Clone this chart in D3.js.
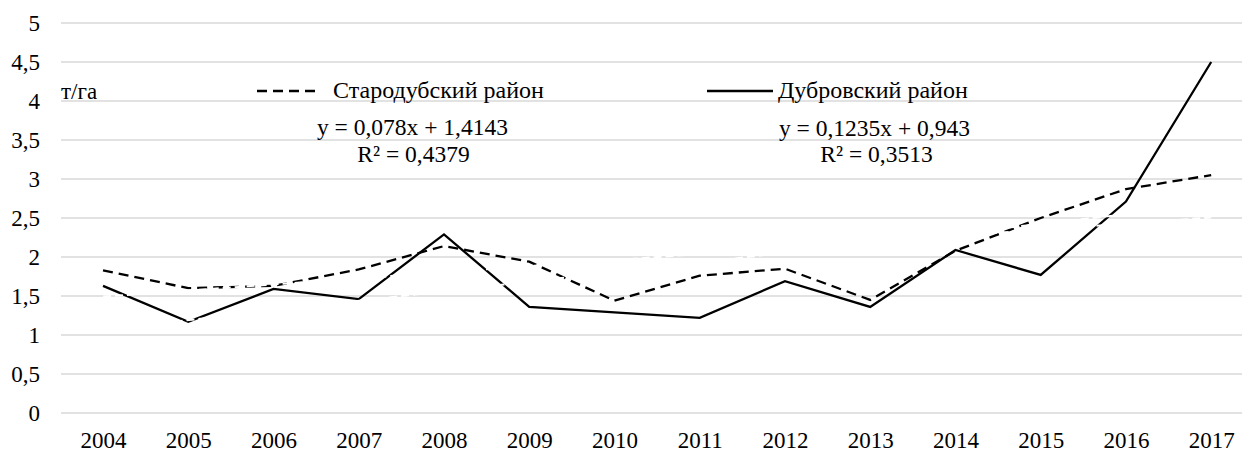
<!DOCTYPE html>
<html>
<head>
<meta charset="utf-8">
<script src="https://cdn.jsdelivr.net/npm/d3@7"></script>
</head>
<body style="margin:0; background:#fff">
<div id="chart"></div>
<script>
// data
var years = ["2004","2005","2006","2007","2008","2009","2010","2011","2012","2013","2014","2015","2016","2017"];
var starodub = [1.83, 1.60, 1.63, 1.84, 2.14, 1.94, 1.44, 1.76, 1.85, 1.45, 2.08, 2.50, 2.87, 3.05];
var dubrovka = [1.63, 1.17, 1.59, 1.46, 2.29, 1.36, 1.29, 1.22, 1.69, 1.36, 2.09, 1.77, 2.71, 4.50];
var yTicks = [0, 0.5, 1, 1.5, 2, 2.5, 3, 3.5, 4, 4.5, 5];
// trendline coefficients (slope, intercept) as printed on the chart
var trendStarodub = [0.078, 1.4143];
var trendDubrovka = [0.1235, 0.943];
var seriesNames = ["Стародубский район", "Дубровский район"];
var equations = [["y = 0,078x + 1,4143", "R² = 0,4379"], ["y = 0,1235x + 0,943", "R² = 0,3513"]];

var W = 1242, H = 453;
var font = "'Liberation Serif'";
var fontSize = "23px";

var svg = d3.select("#chart")
    .append("svg")
    .attr("width", W)
    .attr("height", H);

var x = d3.scalePoint()
    .domain(years)
    .range([60.4, 1253.8])
    .padding(0.5);

var y = d3.scaleLinear()
    .domain([0, 5])
    .range([413, 23]);

// gridlines
svg.append("g")
    .selectAll("line")
    .data(yTicks)
    .enter()
    .append("line")
    .attr("x1", 61)
    .attr("x2", 1254)
    .attr("y1", function(d) { return y(d); })
    .attr("y2", function(d) { return y(d); })
    .attr("stroke", "#d9d9d9")
    .attr("stroke-width", 1.3);

// Y axis labels
var yAxis = svg.append("g")
    .attr("transform", "translate(40,0)")
    .call(d3.axisLeft(y).tickValues(yTicks).tickSize(0).tickPadding(0)
        .tickFormat(function(d) { return String(d).replace(".", ","); }));
yAxis.attr("font-family", null).attr("font-size", null);
yAxis.select(".domain").remove();
yAxis.selectAll("text")
    .style("font-size", fontSize)
    .style("font-family", font)
    .attr("fill", "#000");

// X axis labels
var xAxis = svg.append("g")
    .attr("transform", "translate(0," + y(0) + ")")
    .call(d3.axisBottom(x).tickSize(0).tickPadding(19));
xAxis.attr("font-family", null).attr("font-size", null);
xAxis.select(".domain").remove();
xAxis.selectAll("text")
    .style("font-size", fontSize)
    .style("font-family", font)
    .attr("fill", "#000");

var line = d3.line()
    .x(function(d, i) { return x(years[i]); })
    .y(function(d) { return y(d); });

// Стародубский — dashed
svg.append("path")
    .datum(starodub)
    .attr("fill", "none")
    .attr("stroke", "#000")
    .attr("stroke-width", 2.3)
    .attr("stroke-dasharray", "10,6")
    .attr("d", line);

// Дубровский — solid
svg.append("path")
    .datum(dubrovka)
    .attr("fill", "none")
    .attr("stroke", "#000")
    .attr("stroke-width", 2.3)
    .attr("d", line);

// linear trendlines, drawn in white over everything
[trendStarodub, trendDubrovka].forEach(function(t) {
    var n0 = 1, n1 = years.length;
    svg.append("line")
        .attr("x1", x(years[0]))
        .attr("x2", x(years[years.length - 1]))
        .attr("y1", y(t[0] * n0 + t[1]))
        .attr("y2", y(t[0] * n1 + t[1]))
        .attr("stroke", "#fff")
        .attr("stroke-width", 2)
        .attr("stroke-dasharray", "8,4");
});

function label(xp, yp, txt, anchor, size) {
    svg.append("text")
        .attr("x", xp)
        .attr("y", yp)
        .attr("text-anchor", anchor || "start")
        .style("font-family", font)
        .style("font-size", size || fontSize)
        .attr("fill", "#000")
        .text(txt);
}

// unit label
label(61, 99, "т/га");

// legend
svg.append("line")
    .attr("x1", 257).attr("x2", 320)
    .attr("y1", 91).attr("y2", 91)
    .attr("stroke", "#000")
    .attr("stroke-width", 2.3)
    .attr("stroke-dasharray", "10,6");
label(333, 98, seriesNames[0], "start", "24px");

svg.append("line")
    .attr("x1", 707).attr("x2", 773)
    .attr("y1", 91).attr("y2", 91)
    .attr("stroke", "#000")
    .attr("stroke-width", 2.3);
label(778, 98, seriesNames[1], "start", "24px");

// trend equations
var eqPos = [[412.5, 135, 413.5, 162], [874.5, 136, 876.5, 162]];
equations.forEach(function(e, i) {
    var p = eqPos[i];
    label(p[0], p[1], e[0], "middle", "23.5px");
    label(p[2], p[3], e[1], "middle", "23.5px");
});
</script>
</body>
</html>
